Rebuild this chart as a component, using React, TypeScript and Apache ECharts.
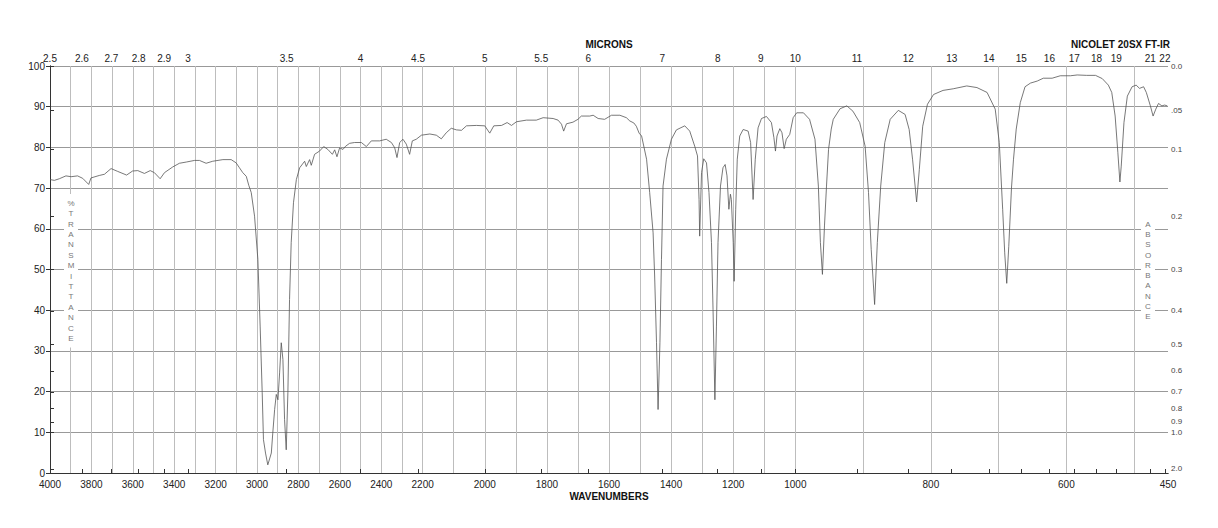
import React, { useEffect, useRef } from "react";
import * as echarts from "echarts";

// Spectrum: wavenumber (cm-1) and % transmittance
const wavenumbers = [
  4000, 3979, 3955, 3923, 3898, 3867, 3842, 3813, 3802, 3762, 3737, 3705, 3673, 3630, 3601, 3576, 3544, 3516, 3496, 3468,
  3447, 3407, 3375, 3342, 3302, 3278, 3246, 3214, 3165, 3125, 3101, 3085, 3069, 3052, 3040, 3028, 3012, 2996, 2985, 2975,
  2969, 2959, 2948, 2931, 2924, 2915, 2907, 2899, 2891, 2883, 2875, 2867, 2859, 2851, 2843, 2835, 2824, 2810, 2794, 2770,
  2762, 2746, 2738, 2722, 2698, 2678, 2658, 2636, 2625, 2614, 2601, 2585, 2572, 2553, 2529, 2496, 2472, 2448, 2408, 2376,
  2351, 2335, 2324, 2311, 2295, 2279, 2263, 2250, 2231, 2206, 2177, 2156, 2140, 2124, 2108, 2091, 2075, 2059, 2027, 2000,
  1984, 1971, 1946, 1928, 1914, 1898, 1866, 1834, 1812, 1780, 1764, 1753, 1746, 1737, 1716, 1700, 1689, 1662, 1651, 1635,
  1614, 1592, 1565, 1544, 1533, 1520, 1512, 1503, 1495, 1479, 1469, 1458, 1453, 1447, 1442, 1436, 1431, 1426, 1415, 1399,
  1383, 1356, 1340, 1324, 1315, 1310, 1308, 1302, 1295, 1286, 1278, 1270, 1265, 1259, 1254, 1249, 1241, 1233, 1226, 1220,
  1214, 1209, 1206, 1200, 1197, 1192, 1187, 1179, 1168, 1152, 1144, 1136, 1129, 1120, 1109, 1093, 1077, 1069, 1064, 1059,
  1050, 1043, 1036, 1029, 1018, 1007, 998, 988, 979, 971, 966, 963, 960, 957, 954, 951, 947, 944, 934, 924,
  915, 905, 897, 892, 888, 883, 879, 874, 868, 860, 848, 838, 832, 827, 821, 817, 812, 805, 796, 782,
  767, 747, 732, 717, 705, 699, 694, 691, 688, 685, 681, 678, 674, 668, 661, 653, 643, 634, 621, 609,
  594, 584, 570, 557, 547, 538, 533, 528, 524, 521, 519, 515, 510, 503, 497, 492, 486, 482, 476, 472,
  468, 464, 459, 455, 451, 450,
];
const transmittance = [
  72.1, 71.9, 72.3, 73.0, 72.8, 73.0, 72.4, 70.9, 72.5, 73.1, 73.4, 74.8, 74.1, 73.2, 74.2, 74.3, 73.6, 74.3, 73.8, 72.3,
  73.8, 75.2, 76.1, 76.4, 76.8, 76.8, 76.1, 76.6, 77.0, 77.0, 76.2, 75.0, 73.8, 72.9, 70.7, 68.9, 63.1, 52.5, 36.1, 19.7,
  8.2, 4.9, 2.0, 4.9, 9.8, 15.6, 19.3, 18.0, 24.6, 32.0, 27.9, 13.1, 5.7, 19.7, 42.6, 56.6, 66.4, 72.1, 75.0, 76.6,
  75.3, 77.0, 75.6, 78.3, 79.1, 80.2, 79.5, 78.3, 79.4, 77.7, 79.9, 79.5, 80.3, 81.0, 81.2, 81.2, 80.2, 81.6, 81.6, 82.0,
  81.2, 79.9, 77.5, 81.2, 82.0, 80.8, 78.3, 81.6, 82.0, 83.0, 83.3, 83.0, 82.1, 83.6, 84.7, 84.3, 84.2, 85.3, 85.4, 85.3,
  83.5, 85.3, 85.4, 86.1, 85.4, 86.3, 86.7, 86.7, 87.3, 87.1, 86.7, 85.7, 84.0, 85.8, 86.2, 86.9, 87.7, 87.7, 87.9, 87.1,
  86.9, 87.9, 87.9, 87.3, 86.5, 86.0, 85.2, 83.5, 82.8, 77.1, 68.9, 59.0, 48.4, 32.0, 15.6, 32.0, 52.5, 70.5, 77.1, 82.0,
  84.3, 85.3, 84.0, 80.3, 77.9, 67.2, 58.2, 73.8, 77.2, 76.2, 68.9, 56.6, 40.2, 18.0, 36.1, 56.6, 70.5, 75.0, 75.8, 73.0,
  64.8, 68.5, 67.2, 56.6, 47.1, 64.8, 77.1, 82.8, 84.4, 84.0, 81.2, 67.2, 77.1, 84.8, 87.1, 87.6, 86.1, 82.4, 79.1, 82.8,
  84.6, 83.6, 79.7, 82.0, 83.2, 87.3, 88.5, 88.5, 86.9, 82.0, 70.5, 56.6, 48.8, 60.7, 70.5, 79.5, 84.5, 86.9, 89.5, 90.2,
  88.9, 86.1, 80.3, 68.9, 54.9, 41.4, 56.6, 70.5, 81.2, 86.9, 89.1, 88.1, 84.4, 77.1, 66.6, 74.6, 85.2, 90.6, 93.0, 94.0,
  94.4, 95.1, 94.7, 93.5, 89.4, 81.2, 64.8, 54.1, 46.6, 55.7, 70.0, 77.1, 84.5, 91.0, 94.9, 95.8, 96.3, 97.0, 97.0, 97.6,
  97.6, 97.8, 97.7, 97.7, 96.9, 95.3, 93.5, 87.7, 78.7, 71.5, 75.4, 86.1, 92.6, 94.9, 95.3, 94.5, 94.9, 93.5, 90.2, 87.7,
  89.4, 90.8, 90.2, 90.4, 90.2, 90.2,
];

// Axis tick positions
const bottomLabelWn = [4000, 3800, 3600, 3400, 3200, 3000, 2800, 2600, 2400, 2200, 2000, 1800, 1600, 1400, 1200, 1000, 800, 600, 450];
const gridWn = [
  3900, 3800, 3700, 3600, 3500, 3400, 3300, 3200, 3100, 3000, 2900, 2800, 2700, 2600, 2500, 2400, 2300, 2200,
  2100, 2000, 1900, 1800, 1700, 1600, 1500, 1400, 1300, 1200, 1100, 1000, 900, 800, 700, 600, 500,
];
const micronValues = [2.5, 2.6, 2.7, 2.8, 2.9, 3, 3.5, 4, 4.5, 5, 5.5, 6, 7, 8, 9, 10, 11, 12, 13, 14, 15, 16, 17, 18, 19, 21, 22];
const micronLabels = ["2.5", "2.6", "2.7", "2.8", "2.9", "3", "3.5", "4", "4.5", "5", "5.5", "6", "7", "8", "9", "10", "11", "12", "13", "14", "15", "16", "17", "18", "19", "21", "22"];
const absValues = [0, 0.05, 0.1, 0.2, 0.3, 0.4, 0.5, 0.6, 0.7, 0.8, 0.9, 1.0, 2.0];
const absLabels = ["0.0", ".05", "0.1", "0.2", "0.3", "0.4", "0.5", "0.6", "0.7", "0.8", "0.9", "1.0", "2.0"];

// Piecewise-linear wavenumber scale: three equal-width panels
function toU(w: number): number {
  if (w >= 2200) return (4000 - w) / 1800;
  if (w >= 1000) return 1 + (2200 - w) / 1200;
  return 2 + (1000 - w) / 550;
}

function nearest(v: number, vals: number[], labels: string[]): string {
  let bi = 0;
  let bd = Infinity;
  vals.forEach((u, i) => {
    const d = Math.abs(u - v);
    if (d < bd) {
      bd = d;
      bi = i;
    }
  });
  return labels[bi];
}

const FONT = "Liberation Sans, Arial, Helvetica, sans-serif";

export default function App() {
  const ref = useRef<HTMLDivElement>(null);
  useEffect(() => {
    if (!ref.current) return;
    const chart = echarts.init(ref.current, undefined, { renderer: "svg" });
    const data = wavenumbers.map((w, i) => [toU(w), transmittance[i]]);
    const bottomU = bottomLabelWn.map(toU);
    const bottomLabels = bottomLabelWn.map((w) => String(w));
    const gridU = gridWn.map(toU);
    const micronU = micronValues.map((m) => toU(10000 / m));
    const absT = absValues.map((a) => 100 * Math.pow(10, -a));
    const axisLine = { show: true, lineStyle: { color: "#333", width: 1 } };

    const vText = (txt: string, cx: number, top: number, lh: number) => ({
      type: "text",
      zlevel: 1,
      z: 101,
      x: cx,
      y: top,
      style: {
        text: txt.split("").join("\n"),
        fill: "#777",
        font: `8px ${FONT}`,
        lineHeight: lh,
        align: "center",
        verticalAlign: "top",
        backgroundColor: "#ffffff",
        padding: [4, 4, 4, 4],
        width: 6,
      },
    });

    chart.setOption({
      animation: false,
      backgroundColor: "#fff",
      textStyle: { fontFamily: FONT },
      grid: { left: 50, right: 50, top: 66, bottom: 55, containLabel: false },
      xAxis: [
        {
          type: "value",
          min: 0,
          max: 3,
          position: "bottom",
          axisLine,
          axisTick: { show: false, customValues: gridU },
          splitLine: { show: true, lineStyle: { color: "#bdbdbd", width: 1 } },
          axisLabel: {
            customValues: bottomU,
            formatter: (v: number) => nearest(v, bottomU, bottomLabels),
            fontSize: 10,
            color: "#222",
            margin: 6,
            fontFamily: FONT,
          },
        },
        {
          type: "value",
          min: 0,
          max: 3,
          position: "top",
          axisLine,
          axisTick: { show: true, customValues: micronU, length: 4, lineStyle: { color: "#333" } },
          splitLine: { show: false },
          axisLabel: {
            customValues: micronU,
            formatter: (v: number) => nearest(v, micronU, micronLabels),
            fontSize: 10,
            color: "#222",
            margin: 3,
            fontFamily: FONT,
          },
        },
      ],
      yAxis: [
        {
          type: "value",
          min: 0,
          max: 100,
          interval: 10,
          position: "left",
          axisLine,
          axisTick: { show: true, length: 4, lineStyle: { color: "#333" } },
          splitLine: { show: true, lineStyle: { color: "#999", width: 1 } },
          axisLabel: { fontSize: 10, color: "#222", margin: 5, fontFamily: FONT },
        },
        {
          type: "value",
          min: 0,
          max: 100,
          position: "right",
          axisLine,
          axisTick: { show: true, customValues: absT, length: 4, lineStyle: { color: "#333" } },
          splitLine: { show: false },
          axisLabel: {
            customValues: absT,
            formatter: (v: number) => nearest(v, absT, absLabels),
            fontSize: 8,
            color: "#444",
            margin: 3,
            fontFamily: FONT,
          },
        },
      ],
      series: [
        {
          type: "line",
          xAxisIndex: 0,
          yAxisIndex: 0,
          data,
          showSymbol: false,
          symbol: "none",
          silent: true,
          lineStyle: { color: "#555", width: 0.8 },
        },
      ],
      graphic: {
        elements: [
          vText("%TRANSMITTANCE", 71, 194, 10.4),
          vText("ABSORBANCE", 1148, 215, 10.3),
          {
            type: "text",
            x: 609,
            y: 44,
            z: 100,
            style: { text: "MICRONS", font: `bold 10px ${FONT}`, fill: "#111", align: "center", verticalAlign: "middle" },
          },
          {
            type: "text",
            x: 1170,
            y: 44,
            z: 100,
            style: { text: "NICOLET 20SX FT-IR", font: `bold 10px ${FONT}`, fill: "#111", align: "right", verticalAlign: "middle" },
          },
          {
            type: "text",
            x: 609,
            y: 496,
            z: 100,
            style: { text: "WAVENUMBERS", font: `bold 10px ${FONT}`, fill: "#111", align: "center", verticalAlign: "middle" },
          },
        ],
      },
    });
    return () => chart.dispose();
  }, []);
  return <div ref={ref} style={{ position: "fixed", left: 0, top: 0, width: 1218, height: 528 }} />;
}
